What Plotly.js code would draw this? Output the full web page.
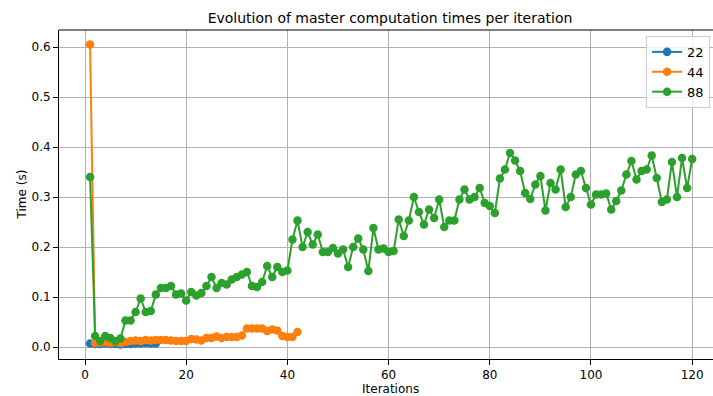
<!DOCTYPE html>
<html>
<head>
<meta charset="utf-8">
<script src="https://cdn.plot.ly/plotly-3.0.1.min.js"></script>
<style>
  html, body { margin: 0; padding: 0; background: #ffffff; overflow: hidden; }
  #chart { width: 720px; height: 396px; }
</style>
</head>
<body>
<div id="chart"></div>
<script>
// Master computation time (seconds) per iteration, for each run size
const iters22 = [1,2,3,4,5,6,7,8,9,10,11,12,13,14];
const times22 = [0.007,0.006,0.006,0.007,0.006,0.006,0.005,0.006,0.006,0.007,0.007,0.008,0.007,0.007];

const iters44 = Array.from({length: 42}, (_, k) => k + 1);
const times44 = [0.605,0.008,0.009,0.010,0.008,0.010,0.008,0.010,0.012,0.013,
                 0.012,0.014,0.013,0.014,0.014,0.014,0.013,0.012,0.012,0.012,
                 0.016,0.015,0.013,0.018,0.018,0.021,0.018,0.020,0.020,0.020,
                 0.023,0.037,0.037,0.037,0.037,0.032,0.035,0.033,0.022,0.020,
                 0.020,0.030];

const iters88 = Array.from({length: 120}, (_, k) => k + 1);
const times88 = [0.340,0.022,0.012,0.022,0.018,0.012,0.017,0.053,0.053,0.070,
                 0.097,0.070,0.072,0.105,0.118,0.118,0.122,0.105,0.107,0.093,
                 0.110,0.103,0.108,0.122,0.140,0.118,0.128,0.125,0.135,0.140,
                 0.145,0.150,0.122,0.120,0.130,0.162,0.140,0.160,0.150,0.153,
                 0.215,0.253,0.200,0.230,0.205,0.225,0.190,0.190,0.198,0.187,
                 0.195,0.160,0.200,0.217,0.195,0.152,0.238,0.195,0.197,0.190,
                 0.192,0.255,0.222,0.253,0.300,0.270,0.245,0.275,0.258,0.295,
                 0.240,0.253,0.253,0.295,0.315,0.295,0.300,0.318,0.288,0.282,
                 0.268,0.337,0.355,0.388,0.373,0.352,0.308,0.296,0.325,0.342,
                 0.273,0.328,0.315,0.355,0.280,0.300,0.345,0.352,0.318,0.285,
                 0.305,0.305,0.307,0.275,0.292,0.313,0.345,0.372,0.335,0.352,
                 0.355,0.383,0.338,0.290,0.295,0.370,0.300,0.378,0.318,0.376];

const seriesNames = ['22', '44', '88'];
const seriesColors = ['#1f77b4', '#ff7f0e', '#2ca02c'];
const xs = [iters22, iters44, iters88];
const ys = [times22, times44, times88];

const traces = seriesNames.map((name, k) => ({
  x: xs[k],
  y: ys[k],
  name: name,
  type: 'scatter',
  mode: 'lines+markers',
  line: { color: seriesColors[k], width: 2 },
  marker: { color: seriesColors[k], size: 8.5 }
}));

const textFont = { family: 'DejaVu Sans, sans-serif', size: 12, color: '#000000' };

// The axes run on past the right edge of the window, so no right frame shows
const layout = {
  width: 720,
  height: 396,
  margin: { l: 59, r: 0, t: 30, b: 37 },
  paper_bgcolor: '#ffffff',
  plot_bgcolor: '#ffffff',
  font: textFont,
  title: {
    text: 'Evolution of master computation times per iteration',
    font: { family: 'DejaVu Sans, sans-serif', size: 14, color: '#000000' },
    x: 0.5417, xanchor: 'center', y: 0.955, yanchor: 'middle'
  },
  xaxis: {
    range: [-5.14, 125.5],
    tickvals: [0, 20, 40, 60, 80, 100, 120],
    ticks: 'outside', ticklen: 5, tickcolor: '#000000', tickwidth: 1,
    showgrid: true, gridcolor: '#b0b0b0', gridwidth: 1,
    zeroline: false,
    showline: true, linecolor: '#000000', linewidth: 1, mirror: false,
    tickfont: textFont
  },
  yaxis: {
    range: [-0.024, 0.634],
    tickvals: [0, 0.1, 0.2, 0.3, 0.4, 0.5, 0.6],
    ticktext: ['0.0', '0.1', '0.2', '0.3', '0.4', '0.5', '0.6'],
    ticks: 'outside', ticklen: 5, tickcolor: '#000000', tickwidth: 1,
    showgrid: true, gridcolor: '#b0b0b0', gridwidth: 1,
    zeroline: false,
    showline: true, linecolor: '#000000', linewidth: 1, mirror: false,
    tickfont: textFont
  },
  // axis titles placed as paper annotations for exact positioning
  annotations: [
    { text: 'Iterations', xref: 'paper', yref: 'paper', x: 0.502, y: -0.091,
      xanchor: 'center', yanchor: 'middle', showarrow: false, font: textFont },
    { text: 'Time (s)', xref: 'paper', yref: 'paper', x: -0.056, y: 0.5,
      xanchor: 'center', yanchor: 'middle', textangle: -90, showarrow: false, font: textFont }
  ],
  // top frame line
  shapes: [
    { type: 'line', xref: 'paper', yref: 'paper', x0: 0, x1: 1, y0: 1, y1: 1,
      line: { color: '#000000', width: 1 } }
  ],
  legend: {
    x: 0.985, y: 0.982, xanchor: 'right', yanchor: 'top',
    bgcolor: 'rgba(255,255,255,0.8)',
    bordercolor: '#cccccc', borderwidth: 1,
    font: { family: 'DejaVu Sans, sans-serif', size: 13, color: '#000000' },
    itemwidth: 30,
    tracegroupgap: 0
  },
  showlegend: true
};

Plotly.newPlot('chart', traces, layout, { displayModeBar: false, staticPlot: true });
</script>
</body>
</html>
